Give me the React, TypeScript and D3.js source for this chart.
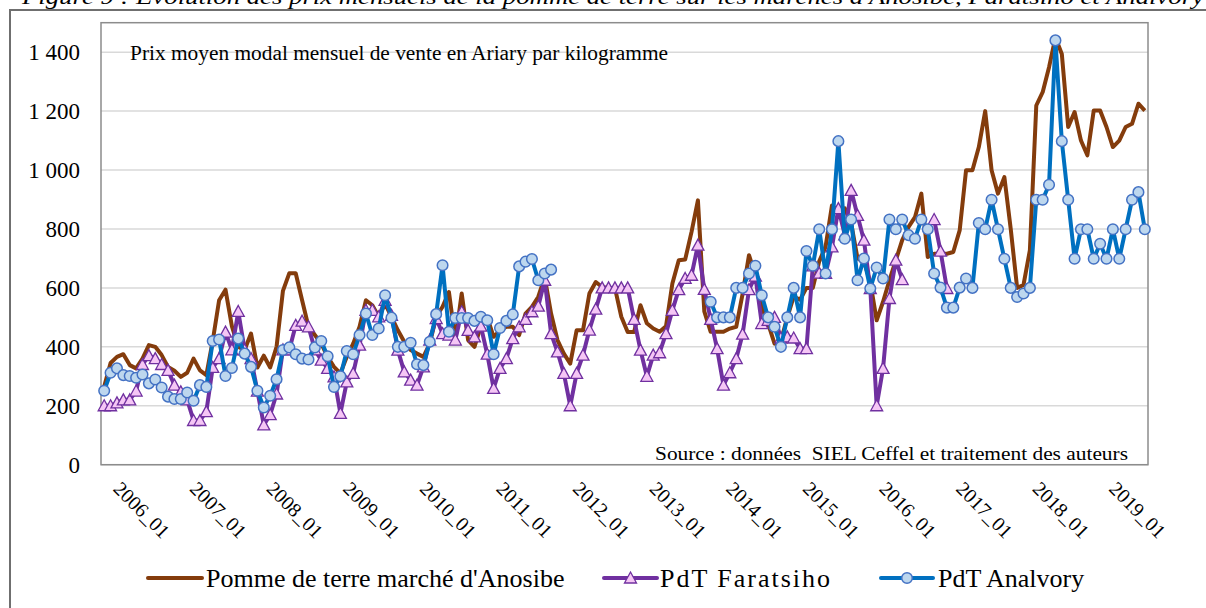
import React from "react";
import * as d3 from "d3";

const startYear = 2006;
const tickLabels = [
  "2006_01", "2007_01", "2008_01", "2009_01", "2010_01", "2011_01", "2012_01",
  "2013_01", "2014_01", "2015_01", "2016_01", "2017_01", "2018_01", "2019_01",
];
const yTicks = [0, 200, 400, 600, 800, 1000, 1200, 1400];
const seriesNames = ["Pomme de terre marché d'Anosibe", "PdT Faratsiho", "PdT Analvory"];

const anosibe: (number | null)[] = [
  265, 345, 366, 375, 338, 327, 360, 406, 400, 372, 332, 319,
  298, 312, 360, 320, 304, 420, 558, 594, 470, 400, 390, 445,
  330, 370, 330, 400, 590, 650, 650, 558, 468, 440, 411, 366,
  332, 310, 366, 411, 468, 558, 541, 502, 547, 502, 456, 417,
  389, 377, 366, 411, 502, 536, 586, 423, 581, 423, 400, 470,
  500, 434, 456, 468, 468, 440, 513, 536, 570, 637, 513, 423,
  377, 343, 456, 456, 581, 620, 603, 600, 600, 502, 450, 450,
  541, 480, 462, 451, 470, 615, 694, 696, 790, 897, 520, 451,
  451, 451, 462, 468, 580, 711, 643, 535, 479, 411, 420, 500,
  570, 560, 600, 600, 690, 740, 880, 860, 870, 820, 700, 690,
  620, 490, 553, 626, 694, 762, 807, 840, 920, 705, 716, 716,
  716, 722, 795, 999, 999, 1078, 1200, 999, 920, 976, 800, 600,
  610, 728, 1219, 1264, 1349, 1450, 1394, 1146, 1197, 1100, 1050, 1202,
  1202, 1146, 1078, 1100, 1146, 1157, 1225, 1202,
];

const faratsiho: (number | null)[] = [
  200, 200, 210, 220, 220, 250, 340, 370, 360, 340, 320, 270,
  247, 220, 150, 150, 180, 330, 360, 450, 390, 520, 390, 360,
  250, 135, 170, 240, 390, 390, 473, 487, 468, 390, 355, 327,
  298, 174, 281, 310, 406, 524, 524, 502, 558, 507, 389, 315,
  287, 270, 332, 423, 496, 445, 440, 423, 519, 456, 434, 470,
  375, 259, 327, 360, 428, 468, 493, 519, 538, 626, 445, 383,
  310, 200, 310, 372, 457, 528, 600, 600, 600, 600, 600, 493,
  389, 300, 372, 380, 445, 524, 594, 632, 643, 745, 595, 493,
  394, 270, 312, 360, 443, 594, 640, 479, 490, 500, 430, 434,
  430, 394, 394, 675, 650, 649, 739, 869, 780, 931, 846, 762,
  598, 200, 327, 564, 694, 628, null, null, null, null, 832, 725,
  598, null, null, null, null, null, null, null, null, null, null, null,
  null, null, null, null, null, null, null, null, null, null, null, null,
  null, null, null, null, null, null, null, null,
];

const analvory: (number | null)[] = [
  251, 312, 327, 304, 301, 295, 306, 276, 289, 262, 231, 223,
  223, 245, 217, 270, 264, 420, 425, 301, 328, 428, 377, 332,
  251, 194, 234, 290, 389, 398, 375, 360, 357, 398, 420, 368,
  264, 300, 386, 375, 440, 513, 440, 462, 575, 499, 400, 400,
  414, 341, 338, 417, 511, 677, 451, 498, 498, 498, 488, 502,
  490, 375, 464, 488, 510, 673, 689, 698, 626, 649, 662, null,
  null, null, null, null, null, null, null, null, null, null, null, null,
  null, null, null, null, null, null, null, null, null, null, null, 553,
  500, 500, 500, 600, 600, 649, 675, 575, 500, 468, 400, 500,
  600, 500, 725, 675, 799, 649, 799, 1098, 767, 832, 626, 700,
  598, 669, 632, 832, 799, 832, 779, 767, 832, 799, 649, 601,
  533, 533, 601, 632, 600, 820, 799, 899, 799, 699, 600, 569,
  581, 600, 899, 899, 950, 1440, 1098, 899, 699, 799, 799, 699,
  750, 699, 799, 699, 799, 899, 925, 799,
];

const categories = anosibe.map(
  (_, i) => `${startYear + Math.floor(i / 12)}_${String((i % 12) + 1).padStart(2, "0")}`
);

const BROWN = "#843C0C";
const PURPLE = "#7030A0";
const PINK = "#F5C6F5";
const BLUE = "#0070C0";
const LIGHTBLUE = "#BDD7EE";
const MARKER_BLUE = "#4472C4";
const FONT = "'Liberation Serif', 'Times New Roman', serif";
const TRI = "M0,-6 L6,5 L-6,5 Z";

export default function App() {
  const plot = { l: 101, r: 1148, t: 22.7, b: 464.7 };
  const x = d3.scalePoint<string>().domain(categories).range([plot.l, plot.r]).padding(0.5);
  const y = d3.scaleLinear().domain([0, 1500]).range([plot.b, plot.t]);
  const fmt = (v: number) => d3.format(",")(v).replace(/,/g, " ");

  const mkLine = (data: (number | null)[]) =>
    d3
      .line<number | null>()
      .defined((d) => d != null)
      .x((_, i) => x(categories[i]) as number)
      .y((d) => y(d as number))(data) || "";

  const pts = (data: (number | null)[]) =>
    data
      .map((d, i) => ({ d, i }))
      .filter((p) => p.d != null)
      .map((p) => ({ cx: x(categories[p.i]) as number, cy: y(p.d as number), key: p.i }));

  return (
    <svg
      width={1206}
      height={608}
      style={{ position: "absolute", left: 0, top: 0, background: "#fff" }}
      fontFamily={FONT}
    >
      <rect x={0} y={0} width={1206} height={608} fill="#fff" />
      <text
        x={22}
        y={3.5}
        fontSize={21}
        fontStyle="italic"
        textLength={1182}
        lengthAdjust="spacingAndGlyphs"
        fill="#000"
      >
        Figure 9 : Evolution des prix mensuels de la pomme de terre sur les marchés d'Anosibe, Faratsiho et Analvory
      </text>
      <path d="M10,620 L10,10 L1220,10" fill="none" stroke="#6f6f6f" strokeWidth={2} />

      {/* gridlines */}
      {yTicks.map((t) => (
        <line key={t} x1={plot.l} x2={plot.r} y1={y(t)} y2={y(t)} stroke="#D9D9D9" strokeWidth={1.5} />
      ))}
      <rect
        x={plot.l}
        y={plot.t}
        width={plot.r - plot.l}
        height={plot.b - plot.t}
        fill="none"
        stroke="#8c8c8c"
        strokeWidth={1.5}
      />

      {/* y labels */}
      {yTicks.map((t) => (
        <text key={t} x={80} y={y(t) + 8} fontSize={23} textAnchor="end" fill="#000">
          {fmt(t)}
        </text>
      ))}

      {/* x labels */}
      {tickLabels.map((lab) => {
        const tx = x(lab) as number;
        return (
          <text
            key={lab}
            transform={`translate(${tx + 8},${490}) rotate(45)`}
            fontSize={20}
            fill="#000"
          >
            {lab}
          </text>
        );
      })}

      <text x={130} y={60} fontSize={20} textLength={538} lengthAdjust="spacingAndGlyphs" fill="#000">
        Prix moyen modal mensuel de vente en Ariary par kilogramme
      </text>
      <text
        x={655}
        y={459.5}
        fontSize={19}
        textLength={473}
        lengthAdjust="spacingAndGlyphs"
        fill="#000"
        style={{ whiteSpace: "pre" }}
      >
        {"Source : données  SIEL Ceffel et traitement des auteurs"}
      </text>

      {/* series */}
      <path d={mkLine(anosibe)} fill="none" stroke={BROWN} strokeWidth={4} strokeLinejoin="round" />

      <path d={mkLine(faratsiho)} fill="none" stroke={PURPLE} strokeWidth={4} strokeLinejoin="round" />
      {pts(faratsiho).map((p) => (
        <path
          key={p.key}
          d={TRI}
          transform={`translate(${p.cx},${p.cy})`}
          fill={PINK}
          stroke={PURPLE}
          strokeWidth={1.3}
        />
      ))}

      <path d={mkLine(analvory)} fill="none" stroke={BLUE} strokeWidth={4} strokeLinejoin="round" />
      {pts(analvory).map((p) => (
        <circle key={p.key} cx={p.cx} cy={p.cy} r={5.3} fill={LIGHTBLUE} stroke={MARKER_BLUE} strokeWidth={1.5} />
      ))}

      {/* legend */}
      <g>
        <line x1={148} x2={202} y1={578} y2={578} stroke={BROWN} strokeWidth={4} strokeLinecap="round" />
        <text x={206} y={586.5} fontSize={26} fill="#000">
          {seriesNames[0]}
        </text>

        <line x1={604} x2={657} y1={578} y2={578} stroke={PURPLE} strokeWidth={4} strokeLinecap="round" />
        <path d={TRI} transform="translate(630.5,578)" fill={PINK} stroke={PURPLE} strokeWidth={1.3} />
        <text x={660} y={586.5} fontSize={26} textLength={170} lengthAdjust="spacing" fill="#000">
          {seriesNames[1]}
        </text>

        <line x1={881} x2={933} y1={578} y2={578} stroke={BLUE} strokeWidth={4} strokeLinecap="round" />
        <circle cx={907} cy={578} r={5.3} fill={LIGHTBLUE} stroke={MARKER_BLUE} strokeWidth={1.5} />
        <text x={938} y={586.5} fontSize={26} fill="#000">
          {seriesNames[2]}
        </text>
      </g>
    </svg>
  );
}
